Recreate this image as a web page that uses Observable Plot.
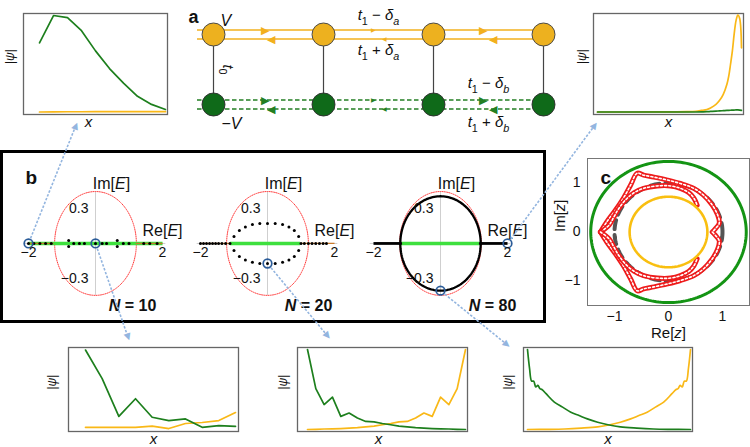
<!DOCTYPE html>
<html><head><meta charset="utf-8">
<script src="https://cdn.jsdelivr.net/npm/d3@7"></script>
<script src="https://cdn.jsdelivr.net/npm/@observablehq/plot@0.6"></script>
<style>
html,body{margin:0;padding:0;background:#fff;}
#fig{position:relative;width:750px;height:447px;overflow:hidden;font-family:"Liberation Sans",Arial,sans-serif;}
#fig svg{position:absolute;}
.bbox{position:absolute;border:3px solid #000;box-sizing:border-box;}
</style></head><body><div id="fig"></div>
<script>
// ---------------- DATA ----------------
// |psi| panels (site index, amplitude normalised to panel height)
const tlSites = [1,2,3,4,5,6,7,8,9,10];                       // N=10, E=-2
const tlGreen = [0.71,0.98,0.96,0.83,0.63,0.455,0.31,0.18,0.10,0.05];
const tlYellow = [0.025,0.026,0.027,0.027,0.028,0.028,0.028,0.028,0.028,0.028];

const trSites = [1,20,40,50,55,58,61,63,66,68,70,72,73,74,75,76,77,78,79,80]; // N=80, E=2
const trYellow = [0.025,0.025,0.026,0.028,0.032,0.04,0.05,0.065,0.1,0.14,0.2,0.3,0.38,0.5,0.63,0.8,0.93,0.985,0.95,0.66];
const trGreen  = [0.025,0.025,0.025,0.025,0.025,0.026,0.028,0.03,0.033,0.036,0.038,0.04,0.041,0.042,0.043,0.044,0.045,0.045,0.043,0.04];

const blSites = [1,2,3,4,5,6,7,8,9,10];                       // N=10, E=0
const blGreen = [0.97,0.63,0.18,0.39,0.17,0.13,0.15,0.05,0.07,0.06];
const blYellow = [0.05,0.05,0.05,0.05,0.065,0.035,0.095,0.107,0.13,0.226];

const bmSites = [1,2,3,4,5,6,7,8,9,10,11,12,13,14,15,16,17,18,19,20]; // N=20
const bmGreen = [0.976,0.51,0.32,0.41,0.18,0.22,0.16,0.12,0.115,0.095,0.08,0.065,0.055,0.045,0.04,0.035,0.032,0.03,0.026,0.024];
const bmYellow = [0.024,0.026,0.03,0.032,0.035,0.04,0.045,0.055,0.065,0.08,0.095,0.115,0.12,0.16,0.22,0.18,0.41,0.32,0.51,0.976];

const brGreenSites = [1,2,3,4,5,6,7,8,10,14,18,22,26,30,35,40,46,54,62,70,80]; // N=80
const brGreen = [0.976,0.75,0.6,0.6,0.53,0.55,0.51,0.5,0.45,0.35,0.29,0.23,0.19,0.15,0.11,0.08,0.055,0.04,0.03,0.026,0.024];
const brYellowSites = [80,79,78,77,76,75,74,73,71,67,63,59,55,51,46,41,35,27,19,11,1];
const brYellow = [0.976,0.75,0.6,0.6,0.53,0.55,0.51,0.5,0.45,0.35,0.29,0.23,0.19,0.15,0.11,0.08,0.055,0.04,0.03,0.026,0.024];

// panel a: lattice
const latticeSites = [0,1,2,3];
const bondStart = -0.15;
const rightArrowX = [0.47,1.45,2.45];
const leftArrowX = [0.52,1.55,2.54];
const arrowGlyphSize = [11,6,11];
const hopLabels = [
  {x:1.5, row:1, text:"*t*_1 − *δ*_a", off:-19},
  {x:1.5, row:1, text:"*t*_1 + *δ*_a", off:16},
  {x:2.5, row:0, text:"*t*_1 − *δ*_b", off:-21},
  {x:2.5, row:0, text:"*t*_1 + *δ*_b", off:18}
];

// panel b: spectra
const reTicks = [-2, 2];
const imTicks = [0.3, -0.3];
const pbcAxes = [1.22, 0.44];            // red dotted curve semi-axes
const n10Re = [-2,-1.84,-1.66,-1.49,-1.32,-0.8,-0.8,-0.65,-0.48,-0.33,0,0.2,0.33,0.65,0.65,0.83,1.0,1.44,1.62,1.84];
const n10Im = [0,0,0,0,0,0.025,-0.025,0,0,0,0,0,0,0.025,-0.025,0,0,0,0,0];
const n20RealRe = [-2,-1.91,-1.82,-1.73,-1.64,-1.55,-1.46,-1.36,-1.25,-1.12,1.0,1.1,1.22,1.33,1.44,1.55,1.66,1.76];
const n20ArcRe = [-1.0,-0.84,-0.66,-0.45,-0.23,0,0.23,0.45,0.64,0.8,0.93];
const n20ArcIm = [0.06,0.11,0.14,0.16,0.17,0.17,0.17,0.16,0.14,0.11,0.06];
const n80LoopAxes = [1.2, 0.40];
const greenBand = {10:[-2,2], 20:[-1.12,0.97], 80:[-1.2,1.2]};
const outerBands = {10:[[-2,-1.25],[1.2,2]], 20:[[-2,-1.12],[0.97,2]], 80:[[-2,-1.2],[1.2,2]]};
const highlights = {
  10:[{re:-2, im:0},{re:0, im:0}],
  20:[{re:0, im:-0.17}],
  80:[{re:0, im:-0.40},{re:2, im:0}]
};
const nLabels = {10:"*N* = 10", 20:"*N* = 20", 80:"*N* = 80"};

// panel c: generalized Brillouin zone
const cTicks = [-1, 0, 1];
const radii = {green:1.44, gray:1.0, yellow:0.72};
const redOuterRe = [-1.26,-1.14,-0.98,-0.83,-0.7,-0.58,-0.46,-0.27,-0.02,0.22,0.47,0.65,0.81,0.91,0.94,0.87,0.81];
const redOuterIm = [0,0.21,0.45,0.7,0.96,1.2,1.16,1.12,1.06,0.99,0.89,0.75,0.55,0.35,0.18,0.07,0];
const redInnerRe = [-1.26,-1.1,-1.01,-0.92,-0.8,-0.64,-0.46,-0.21,0.04,0.22,0.38,0.47,0.53];
const redInnerIm = [0,0.14,0.31,0.48,0.65,0.8,0.89,0.94,0.94,0.89,0.8,0.69,0.55];

// ---------------- STYLE / HELPERS ----------------
const FONT = "'Liberation Sans', Arial, sans-serif";
const baseStyle = {background:"transparent", fontFamily:FONT, fontSize:"14px", color:"#111", overflow:"visible"};
const PSI_GREEN = "#1d7f1d", PSI_YELLOW = "#f9b817";
const fig = document.getElementById("fig");
function place(el, left, top){ el.style.left = left+"px"; el.style.top = top+"px"; fig.appendChild(el); richText(el); return el; }
function richText(svg){
  d3.select(svg).selectAll("text").each(function(){
    const s = this.textContent;
    if (!/[*_]/.test(s)) return;
    const el = d3.select(this);
    const fs = parseFloat(getComputedStyle(this).fontSize) || 14;
    el.text(null);
    const rx = /\*([^*]+)\*|_(\S)|([^*_]+)/g;
    let m, down = 0;
    while ((m = rx.exec(s))) {
      const t = el.append("tspan");
      if (m[2] !== undefined) {
        t.text(m[2]).attr("font-size",(fs*0.72).toFixed(1)).attr("dy",(fs*0.28).toFixed(1));
        if (/[a-z]/i.test(m[2])) t.attr("font-style","italic");
        down = fs*0.28;
      } else {
        t.text(m[1] !== undefined ? m[1] : m[3]);
        if (m[1] !== undefined) t.attr("font-style","italic");
        if (down) { t.attr("dy",(-down).toFixed(1)); down = 0; }
      }
    }
  });
}
const zipSV = (s, v) => s.map((d,i) => ({s:d, v:v[i]}));
const ellipsePts = ([a,b], n=160) => d3.range(n+1).map(i => ({x:a*Math.cos(2*Math.PI*i/n), y:b*Math.sin(2*Math.PI*i/n)}));
const circlePts = (r) => ellipsePts([r,r], 200);
const fmtTick = d => d < 0 ? "−"+Math.abs(d) : String(d);

// ---------------- PANEL b BOX ----------------
const box = document.createElement("div");
box.className = "bbox";
Object.assign(box.style, {left:"0px", top:"150px", width:"546px", height:"173px"});
fig.appendChild(box);

// ---------------- |psi| PANELS ----------------
function psiPanel(cfg){
  const [fx0, fy0, fx1, fy1] = cfg.frame;
  const left = fx0 - 26, top = fy0 - 4, width = fx1 - left + 4, height = fy1 - top + 20;
  const svg = Plot.plot({
    width, height,
    marginLeft: fx0-left, marginTop: fy0-top, marginRight: left+width-fx1, marginBottom: top+height-fy1,
    x:{domain:cfg.xDomain, axis:null},
    y:{domain:[0,1], axis:null},
    style: baseStyle,
    marks:[
      Plot.frame({stroke:"#666", strokeWidth:1.3}),
      Plot.line(cfg.yellow, {x:"s", y:"v", stroke:PSI_YELLOW, strokeWidth:1.7, curve:cfg.curve}),
      Plot.line(cfg.green, {x:"s", y:"v", stroke:PSI_GREEN, strokeWidth:1.7, curve:cfg.curve}),
      Plot.text(["|*ψ*|"], {frameAnchor:"left", dx:cfg.psiDx, rotate:-90, fontSize:12}),
      Plot.text(["*x*"], {frameAnchor:"bottom", dx:cfg.xDx||0, dy:12, fontSize:15})
    ]
  });
  return place(svg, left, top);
}
psiPanel({frame:[23,13,167,114], xDomain:[-0.143,10.143], green:zipSV(tlSites,tlGreen), yellow:zipSV(tlSites,tlYellow), curve:"linear", psiDx:-13, xDx:-7});
psiPanel({frame:[593,13,743,114], xDomain:[-1.194,81.097], green:zipSV(trSites,trGreen), yellow:zipSV(trSites,trYellow), curve:"catmull-rom", psiDx:-11});
psiPanel({frame:[68,347,238,431], xDomain:[-0.02,10.18], green:zipSV(blSites,blGreen), yellow:zipSV(blSites,blYellow), curve:"linear", psiDx:-16});
psiPanel({frame:[297,347,467,431], xDomain:[-0.2025,20.24], green:zipSV(bmSites,bmGreen), yellow:zipSV(bmSites,bmYellow), curve:"linear", psiDx:-14, xDx:-4});
psiPanel({frame:[523,347,692,431], xDomain:[-0.939,80.97], green:zipSV(brGreenSites,brGreen), yellow:zipSV(brYellowSites,brYellow), curve:"catmull-rom", psiDx:-15});

// ---------------- PANEL a: LATTICE ----------------
const YEL_LINE = "#f2b01e", GRN_LINE = "#237f23";
const rowStyle = {1:{line:YEL_LINE, fill:"#edb11f", dash:null}, 0:{line:GRN_LINE, fill:"#0f6a19", dash:"4.5,2.5"}};
const latticeMarks = [];
for (const row of [1,0]) {
  const st = rowStyle[row];
  for (const off of [-4.5, 4.5]) {
    latticeMarks.push(Plot.link([row], {x1:()=>bondStart, x2:()=>3, y1:d=>d, y2:d=>d, dy:off, stroke:st.line, strokeWidth:1.3, strokeDasharray:st.dash}));
  }
  latticeMarks.push(Plot.text(rightArrowX, {x:d=>d, y:()=>row, dy:-4.5, text:()=>"▶", fontSize:(d,i)=>arrowGlyphSize[i], fill:st.line}));
  latticeMarks.push(Plot.text(leftArrowX, {x:d=>d, y:()=>row, dy:4.5, text:()=>"◀", fontSize:(d,i)=>arrowGlyphSize[i], fill:st.line}));
}
const hopMarks = hopLabels.map(h => Plot.text([h], {x:"x", y:"row", dy:h.off, text:"text", fontSize:15}));
const latticePlot = Plot.plot({
  width:420, height:140, marginLeft:43, marginRight:47, marginTop:34, marginBottom:36,
  x:{domain:[0,3], axis:null}, y:{domain:[0,1], axis:null},
  style:{...baseStyle, fontSize:"15px"},
  marks:[
    ...latticeMarks,
    Plot.link(latticeSites, {x1:d=>d, x2:d=>d, y1:()=>0, y2:()=>1, stroke:"#444", strokeWidth:1.2}),
    Plot.dot(latticeSites, {x:d=>d, y:()=>1, r:11.5, fill:rowStyle[1].fill, stroke:"#4a4a4a", strokeWidth:1}),
    Plot.dot(latticeSites, {x:d=>d, y:()=>0, r:11.5, fill:rowStyle[0].fill, stroke:"#333", strokeWidth:1}),
    ...hopMarks,
    Plot.text(["*V*"], {frameAnchor:"top-left", dx:7, dy:-20, fontSize:16}),
    Plot.text(["−*V*"], {frameAnchor:"bottom-left", dx:8, dy:24, fontSize:16}),
    Plot.text(["*t*_0"], {x:()=>0, y:()=>0.5, dx:14, rotate:90, fontSize:15}),
    Plot.text(["a"], {frameAnchor:"top-left", dx:-25, dy:-24, fontSize:18, fontWeight:"bold"})
  ]
});
place(latticePlot, 170, 0);

// ---------------- PANEL b: SPECTRA ----------------
const bPlots = {};
function bPanel(N, cx, ndx, extra){
  const left = cx - 86, top = 156;
  const svg = Plot.plot({
    width:172, height:164, margin:0,
    x:{domain:[-2.567,2.567], axis:null},
    y:{domain:[-0.653,0.737], axis:null},
    style:{...baseStyle, fontSize:"14px"},
    marks:[
      Plot.ruleY([0], {x1:()=>reTicks[0]-0.1, x2:()=>reTicks[1]+0.1, stroke:"#cfcfcf", strokeWidth:1}),
      Plot.ruleX([0], {y1:()=>-pbcAxes[1], y2:()=>pbcAxes[1], stroke:"#cfcfcf", strokeWidth:1}),
      Plot.line(ellipsePts(pbcAxes), {x:"x", y:"y", stroke:"#ff3d3d", strokeWidth:1, strokeDasharray:"1,1.2"}),
      Plot.link([greenBand[N]], {x1:d=>d[0], x2:d=>d[1], y1:()=>0, y2:()=>0, stroke:"#3ee03e", strokeWidth:3.6}),
      ...extra,
      Plot.dot(highlights[N], {x:"re", y:"im", r:4.3, stroke:"#2b5c99", strokeWidth:1.7, fill:"none"}),
      Plot.text(reTicks, {x:d=>d, y:()=>0, dy:9, text:fmtTick, fontSize:14}),
      Plot.text(imTicks, {x:()=>0, y:d=>d, dx:-7, text:fmtTick, textAnchor:"end", fontSize:14}),
      Plot.text(["Im[*E*]"], {x:()=>0, dx:16, frameAnchor:"top", dy:21, fontSize:16}),
      Plot.text(["Re[*E*]"], {x:()=>2, y:()=>0, dy:-13, fontSize:16}),
      Plot.text([nLabels[N]], {x:()=>0, dx:ndx, frameAnchor:"bottom", dy:-10, fontSize:16, fontWeight:"bold"})
    ]
  });
  bPlots[N] = {svg, left, top};
  return place(svg, left, top);
}
const n10Pts = n10Re.map((r,i) => ({re:r, im:n10Im[i]}));
const n20Pts = [
  ...n20RealRe.map(r => ({re:r, im:0})),
  ...n20ArcRe.map((r,i) => ({re:r, im:n20ArcIm[i]})),
  ...n20ArcRe.map((r,i) => ({re:r, im:-n20ArcIm[i]}))
];
bPanel(10, 95, 37, [
  Plot.link(outerBands[10], {x1:d=>d[0], x2:d=>d[1], y1:()=>0, y2:()=>0, stroke:"#c97a2a", strokeWidth:1.3}),
  Plot.text(["b"], {frameAnchor:"top-left", dx:16, dy:14, fontSize:19, fontWeight:"bold"}),
  Plot.dot(n10Pts, {x:"re", y:"im", r:1.5, fill:"#000"})
]);
bPanel(20, 267, 41, [
  Plot.link(outerBands[20], {x1:d=>d[0], x2:d=>d[1], y1:()=>0, y2:()=>0, stroke:"#c97a2a", strokeWidth:1.3}),
  Plot.dot(n20Pts, {x:"re", y:"im", r:1.5, fill:"#000"})
]);
bPanel(80, 440, 52, [
  Plot.link(outerBands[80], {x1:d=>d[0], x2:d=>d[1], y1:()=>0, y2:()=>0, stroke:"#000", strokeWidth:2.8}),
  Plot.line(ellipsePts(n80LoopAxes), {x:"x", y:"y", stroke:"#000", strokeWidth:2.3}),
  Plot.dot(greenBand[80], {x:d=>d, y:()=>0, r:1.8, fill:"#000"})
]);

// ---------------- PANEL c ----------------
const mirror = (re, im) => [...re.map((r,i)=>({x:r, y:im[i]})), ...re.map((r,i)=>({x:r, y:-im[i]})).reverse()];
const outerCurve = mirror(redOuterRe, redOuterIm);
const innerUpper = redInnerRe.map((r,i)=>({x:r, y:redInnerIm[i]}));
const innerLower = redInnerRe.map((r,i)=>({x:r, y:-redInnerIm[i]}));
const RED = "#ee1b1b";
const redTube = (data) => [
  Plot.line(data, {x:"x", y:"y", stroke:RED, strokeWidth:5, curve:"catmull-rom"}),
  Plot.line(data, {x:"x", y:"y", stroke:"#fff", strokeWidth:1.6, curve:"catmull-rom", strokeDasharray:"2,2.2"})
];
const cPlot = Plot.plot({
  width:210, height:210, marginLeft:47, marginRight:1, marginTop:18, marginBottom:45,
  x:{domain:[-1.5,1.5], ticks:cTicks, tickFormat:fmtTick, tickSize:0, tickPadding:6, label:null},
  y:{domain:[-1.5,1.5], ticks:cTicks, tickFormat:fmtTick, tickSize:0, tickPadding:7, label:null},
  style:{...baseStyle, fontSize:"14px"},
  marks:[
    Plot.frame({stroke:"#777", strokeWidth:1}),
    Plot.line(circlePts(radii.gray), {x:"x", y:"y", stroke:"#555", strokeWidth:4, strokeDasharray:"9,6"}),
    ...redTube(outerCurve),
    ...redTube(innerUpper),
    ...redTube(innerLower),
    Plot.line(circlePts(radii.yellow), {x:"x", y:"y", stroke:"#f9bf10", strokeWidth:2.6}),
    Plot.line(circlePts(radii.green), {x:"x", y:"y", stroke:"#149414", strokeWidth:3}),
    Plot.text(["Re[*z*]"], {frameAnchor:"bottom", dy:32, fontSize:15}),
    Plot.text(["Im[*z*]"], {frameAnchor:"left", dx:-27, rotate:-90, fontSize:15}),
    Plot.text(["c"], {frameAnchor:"top-left", dx:13, dy:12, fontSize:19, fontWeight:"bold"})
  ]
});
place(cPlot, 540, 140);

// ---------------- CONNECTOR ARROWS ----------------
const connectors = [
  {panel:10, re:-2, im:0, tip:[77,121]},
  {panel:10, re:0, im:0, tip:[129,341]},
  {panel:20, re:0, im:-0.17, tip:[330,339]},
  {panel:80, re:0, im:-0.40, tip:[510,347]},
  {panel:80, re:2, im:0, tip:[597,121]}
];
function toPage(panel, re, im){
  const p = bPlots[panel];
  let sx, sy;
  try { sx = p.svg.scale("x").apply(re); sy = p.svg.scale("y").apply(im); }
  catch(e) { sx = (re + 2.567)/5.134*172; sy = (0.737 - im)/1.39*164; }
  return [p.left + sx, p.top + sy];
}
const segs = connectors.map(c => {
  const [x0, y0] = toPage(c.panel, c.re, c.im);
  const [x1, y1] = c.tip;
  const L = Math.hypot(x1-x0, y1-y0), ux = (x1-x0)/L, uy = (y1-y0)/L;
  return {x1:x0+ux*5.5, y1:y0+uy*5.5, x2:x1-ux*6, y2:y1-uy*6, hx:x1-ux*4.5, hy:y1-uy*4.5, ang:Math.atan2(ux, -uy)*180/Math.PI};
});
const overlay = Plot.plot({
  width:750, height:447, margin:0,
  x:{domain:[0,750], range:[0,750], axis:null},
  y:{domain:[0,447], range:[0,447], axis:null},
  style:{...baseStyle, pointerEvents:"none"},
  marks:[
    Plot.link(segs, {x1:"x1", y1:"y1", x2:"x2", y2:"y2", stroke:"#93b5df", strokeWidth:1.6, strokeDasharray:"2.5,1.6"}),
    Plot.text(segs, {x:"hx", y:"hy", rotate:"ang", text:()=>"▲", fill:"#93b5df", fontSize:12})
  ]
});
place(overlay, 0, 0);
</script></body></html>
